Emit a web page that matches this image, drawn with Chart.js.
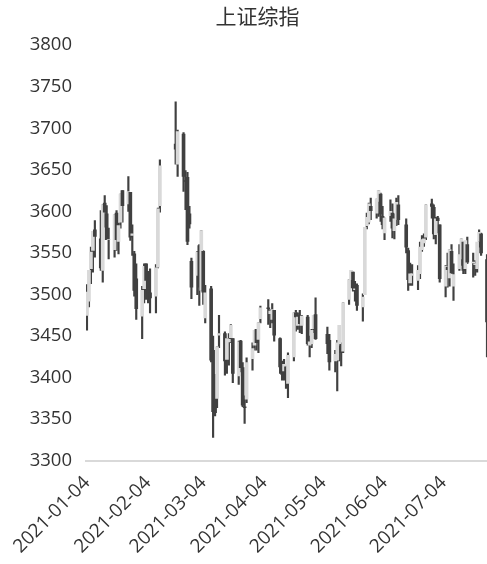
<!DOCTYPE html>
<html>
<head>
<meta charset="utf-8">
<script src="https://cdn.jsdelivr.net/npm/chart.js@4.4.1/dist/chart.umd.min.js"></script>
<style>
  html, body { margin: 0; padding: 0; background: #fff; overflow: hidden; }
  canvas { display: block; }
</style>
</head>
<body>
<canvas id="chart" width="487" height="564" style="width:487px;height:564px"></canvas>
<script>
// 上证综指 daily OHLC, 2021-01-04 .. 2021-07-27
const dates = [
  '2021-01-04','2021-01-05','2021-01-06','2021-01-07','2021-01-08',
  '2021-01-11','2021-01-12','2021-01-13','2021-01-14','2021-01-15',
  '2021-01-18','2021-01-19','2021-01-20','2021-01-21','2021-01-22',
  '2021-01-25','2021-01-26','2021-01-27','2021-01-28','2021-01-29',
  '2021-02-01','2021-02-02','2021-02-03','2021-02-04','2021-02-05',
  '2021-02-08','2021-02-09','2021-02-10','2021-02-18','2021-02-19',
  '2021-02-22','2021-02-23','2021-02-24','2021-02-25','2021-02-26',
  '2021-03-01','2021-03-02','2021-03-03','2021-03-04','2021-03-05',
  '2021-03-08','2021-03-09','2021-03-10','2021-03-11','2021-03-12',
  '2021-03-15','2021-03-16','2021-03-17','2021-03-18','2021-03-19',
  '2021-03-22','2021-03-23','2021-03-24','2021-03-25','2021-03-26',
  '2021-03-29','2021-03-30','2021-03-31','2021-04-01','2021-04-02',
  '2021-04-06','2021-04-07','2021-04-08','2021-04-09',
  '2021-04-12','2021-04-13','2021-04-14','2021-04-15','2021-04-16',
  '2021-04-19','2021-04-20','2021-04-21','2021-04-22','2021-04-23',
  '2021-04-26','2021-04-27','2021-04-28','2021-04-29','2021-04-30',
  '2021-05-06','2021-05-07',
  '2021-05-10','2021-05-11','2021-05-12','2021-05-13','2021-05-14',
  '2021-05-17','2021-05-18','2021-05-19','2021-05-20','2021-05-21',
  '2021-05-24','2021-05-25','2021-05-26','2021-05-27','2021-05-28',
  '2021-05-31','2021-06-01','2021-06-02','2021-06-03','2021-06-04',
  '2021-06-07','2021-06-08','2021-06-09','2021-06-10','2021-06-11',
  '2021-06-15','2021-06-16','2021-06-17','2021-06-18',
  '2021-06-21','2021-06-22','2021-06-23','2021-06-24','2021-06-25',
  '2021-06-28','2021-06-29','2021-06-30','2021-07-01','2021-07-02',
  '2021-07-05','2021-07-06','2021-07-07','2021-07-08','2021-07-09',
  '2021-07-12','2021-07-13','2021-07-14','2021-07-15','2021-07-16',
  '2021-07-19','2021-07-20','2021-07-21','2021-07-22','2021-07-23',
  '2021-07-26','2021-07-27'
];

const openP = [
  3475,3492,3531,3553,3578, 3567,3529,3610,3597,3566,
  3554,3598,3564,3587,3625, 3609,3623,3571,3549,3519,
  3474,3507,3537,3514,3502, 3498,3533,3607,3681,3657,
  3693,3637,3641,3597,3540, 3523,3559,3505,3552,3472,
  3507,3433,3383,3375,3451, 3453,3422,3443,3448,3447,
  3402,3444,3412,3365,3374, 3423,3439,3458,3446,3471,
  3484,3477,3470,3481, 3447,3411,3408,3413,3393,
  3425,3478,3463,3475,3463, 3473,3439,3441,3459,3476,
  3452,3445,
  3420,3421,3439,3440,3432, 3494,3518,3527,3506,3511,
  3485,3500,3583,3587,3606, 3598,3612,3621,3594,3574,
  3595,3598,3577,3590,3608, 3584,3553,3514,3523,
  3517,3525,3554,3562,3569, 3609,3605,3572,3592,3584,
  3510,3533,3520,3552,3510, 3531,3543,3563,3531,3560,
  3538,3536,3531,3564,3573, 3542,3462
];

const highP = [
  3512,3529,3557,3576,3589, 3601,3608,3619,3607,3580,
  3596,3601,3586,3621,3625, 3642,3623,3584,3552,3537,
  3510,3537,3537,3528,3531, 3536,3604,3662,3732,3698,
  3695,3649,3647,3606,3544, 3552,3560,3577,3553,3511,
  3510,3450,3404,3437,3475, 3455,3447,3453,3464,3447,
  3444,3445,3418,3378,3424, 3442,3457,3458,3466,3486,
  3494,3482,3489,3481, 3448,3420,3422,3414,3430,
  3478,3481,3478,3481,3475, 3475,3450,3458,3475,3496,
  3461,3452,
  3433,3445,3463,3442,3490, 3518,3529,3527,3516,3513,
  3501,3581,3598,3610,3616, 3615,3625,3622,3606,3592,
  3614,3609,3597,3616,3619, 3591,3556,3538,3536,
  3535,3563,3571,3573,3608, 3615,3608,3593,3594,3584,
  3535,3550,3554,3560,3537, 3560,3567,3563,3564,3569,
  3550,3541,3562,3578,3574, 3548,3468
];

const lowP = [
  3457,3485,3513,3527,3545, 3529,3515,3581,3566,3543,
  3545,3553,3549,3580,3587, 3600,3565,3547,3498,3470,
  3447,3490,3494,3490,3478, 3478,3532,3599,3657,3642,
  3624,3602,3560,3580,3495, 3500,3487,3505,3488,3466,
  3419,3328,3354,3364,3436, 3403,3405,3415,3442,3394,
  3392,3407,3365,3345,3370, 3409,3433,3433,3430,3466,
  3464,3460,3466,3444, 3405,3397,3397,3387,3376,
  3420,3456,3458,3454,3453, 3439,3425,3436,3454,3446,
  3429,3409,
  3407,3384,3420,3414,3430, 3488,3508,3504,3492,3481,
  3468,3500,3579,3585,3590, 3592,3594,3588,3579,3566,
  3588,3568,3567,3583,3584, 3550,3505,3511,3511,
  3506,3519,3552,3558,3566, 3592,3567,3561,3574,3515,
  3497,3509,3510,3525,3493, 3529,3535,3525,3525,3537,
  3521,3523,3527,3557,3547, 3425,3375
];

const closeP = [
  3503,3529,3551,3576,3570, 3532,3608,3599,3566,3566,
  3596,3566,3583,3621,3607, 3624,3569,3573,3505,3483,
  3505,3534,3517,3502,3496, 3532,3603,3655,3675,3696,
  3642,3636,3564,3585,3509, 3551,3509,3577,3503,3502,
  3421,3359,3358,3437,3453, 3420,3447,3446,3463,3405,
  3443,3412,3367,3364,3418, 3435,3457,3442,3466,3484,
  3483,3480,3482,3451, 3413,3404,3416,3399,3427,
  3478,3473,3473,3465,3474, 3441,3443,3457,3475,3447,
  3441,3419,
  3428,3442,3463,3430,3490, 3518,3529,3511,3507,3487,
  3497,3581,3593,3609,3601, 3615,3625,3597,3584,3592,
  3600,3580,3591,3611,3590, 3557,3518,3525,3525,
  3529,3557,3566,3567,3608, 3606,3573,3591,3589,3519,
  3534,3530,3554,3526,3524, 3548,3567,3529,3565,3539,
  3539,3537,3563,3575,3550, 3467,3381
];

const tickDates = ['2021-01-04','2021-02-04','2021-03-04','2021-04-04','2021-05-04','2021-06-04','2021-07-04'];

const upColor = '#d9d9d9';
const downColor = '#404040';

const day0 = Date.parse('2021-01-04');
const dayOf = d => Math.round((Date.parse(d) - day0) / 86400000);

const wicks = dates.map((d, i) => ({ x: dayOf(d), y: [lowP[i], highP[i]] }));
const bodies = dates.map((d, i) => ({ x: dayOf(d), y: [openP[i], closeP[i]] }));
const bodyColors = dates.map((d, i) => closeP[i] >= openP[i] ? upColor : downColor);

const ctx = document.getElementById('chart').getContext('2d');
new Chart(ctx, {
  type: 'bar',
  data: {
    datasets: [
      {
        label: 'high-low',
        data: wicks,
        backgroundColor: downColor,
        barThickness: 1.5,
        grouped: false,
        order: 2
      },
      {
        label: 'open-close',
        data: bodies,
        backgroundColor: bodyColors,
        barThickness: 3,
        grouped: false,
        order: 1
      }
    ]
  },
  options: {
    responsive: false,
    animation: false,
    layout: { padding: { left: 28, right: 0, top: 0, bottom: -5 } },
    plugins: {
      legend: { display: false },
      tooltip: { enabled: false },
      title: {
        display: true,
        text: '上证综指',
        color: '#333333',
        font: { family: "'Noto Sans CJK SC'", size: 21, weight: 'normal' },
        padding: { top: 3, bottom: 17 }
      }
    },
    scales: {
      x: {
        type: 'linear',
        offset: false,
        min: -0.5,
        max: 203,
        grid: { display: false, drawTicks: false },
        border: { display: true, color: '#d9d9d9', width: 2 },
        afterBuildTicks: axis => {
          axis.ticks = tickDates.map(d => ({ value: dayOf(d) }));
        },
        afterFit: axis => {
          // keep the rotated first label from pushing the plot area right
          axis.paddingLeft = 0;
          axis.paddingRight = 0;
        },
        ticks: {
          autoSkip: false,
          minRotation: 45,
          maxRotation: 45,
          padding: 11,
          color: '#333333',
          font: { family: "'Open Sans'", size: 19 },
          callback: (value, index) => tickDates[index]
        }
      },
      y: {
        min: 3300,
        max: 3800,
        grid: { display: false, drawTicks: false },
        border: { display: false },
        afterFit: axis => { axis.width = 58; },
        ticks: {
          stepSize: 50,
          padding: 14,
          color: '#333333',
          font: { family: "'Open Sans'", size: 18.5 },
          callback: value => String(value)
        }
      }
    }
  }
});
</script>
</body>
</html>
